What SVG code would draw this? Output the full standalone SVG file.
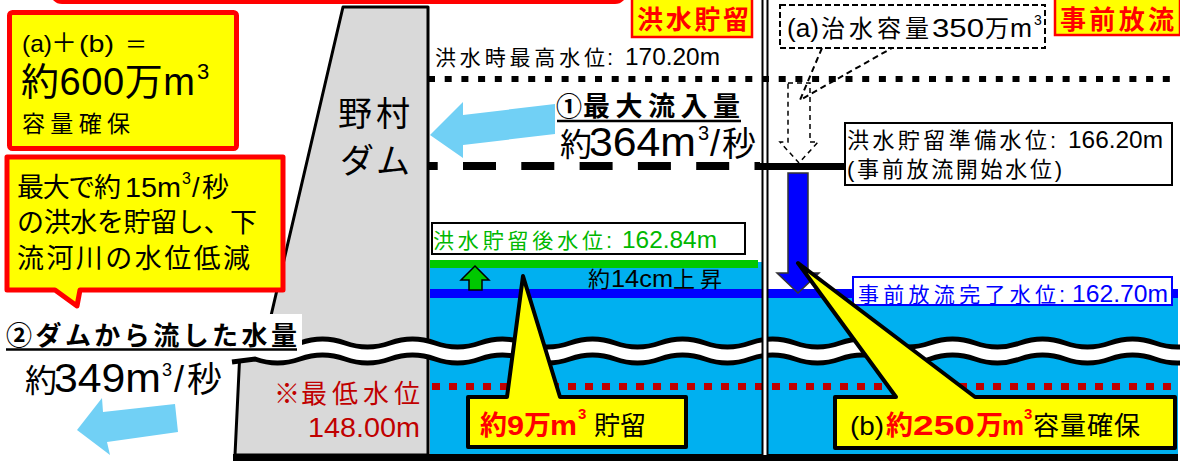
<svg xmlns="http://www.w3.org/2000/svg" width="1180" height="461" viewBox="0 0 1180 461">
  <defs>
    <style>
      .t { font-family: "Liberation Sans", "Noto Sans CJK JP", sans-serif; fill: #000; }
      .cj { font-family: "Noto Sans CJK JP", "Liberation Sans", sans-serif; }
      .b { font-weight: bold; }
      .red { fill: #ff0000; }
      .dred { fill: #c00000; }
      .grn { fill: #00b800; }
      .blu { fill: #0000ff; }
      .note { fill: #ffff00; stroke: #ff0000; stroke-width: 5; stroke-linejoin: round; }
      .call { fill: #ffff00; stroke: #000; stroke-width: 4; stroke-linejoin: round; }
      .tag { fill: #ffff00; stroke: #ff0000; stroke-width: 2.5; }
      .lbl { fill: #fff; stroke: #000; stroke-width: 2; }
      .water { fill: #00b0f0; }
      .dam { fill: #d9d9d9; stroke: #000; stroke-width: 3; stroke-linejoin: round; }
      .flow { fill: #71d0f5; }
    </style>
  </defs>

  <rect width="1180" height="461" fill="#fff"/>

  <!-- frame of a panel above -->
  <rect x="52" y="-30" width="573" height="32" rx="10" fill="#fff" stroke="#ff0000" stroke-width="4"/>

  <!-- reservoir water -->
  <g id="reservoir">
    <rect class="water" x="430" y="262" width="333" height="193"/>
    <rect class="water" x="767" y="293" width="411" height="162"/>
    <rect x="430" y="260" width="328" height="8" fill="#00c800"/>
    <rect x="430" y="289" width="748" height="9" fill="#0000ff"/>
    <path d="M432,386.5 H1178" stroke="#c00000" stroke-width="7" stroke-dasharray="8 9"/>
  </g>

  <!-- dam body -->
  <g id="dam">
    <polygon class="dam" points="343,7 428,7 428,350 263,350"/>
    <polygon class="dam" points="240,350 428,350 428,455 235,455"/>
  </g>

  <!-- break lines -->
  <g id="break" fill="none">
    <path d="M232,353 L255,351 Q277.5,359 300,351 T345,351 T390,351 T435,351 T480,351 T525,351 T570,351 T615,351 T660,351 T705,351 T750,351 T795,351 T840,351 T885,351 T930,351 T975,351 T1020,351 T1065,351 T1110,351 T1155,351 T1200,351" stroke="#fff" stroke-width="16"/>
    <path d="M300,343 Q322.5,335 345,343 T390,343 T435,343 T480,343 T525,343 T570,343 T615,343 T660,343 T705,343 T750,343 T795,343 T840,343 T885,343 T930,343 T975,343 T1020,343 T1065,343 T1110,343 T1155,343 T1200,343" stroke="#000" stroke-width="5"/>
    <path d="M232,362 L255,359 Q277.5,367 300,359 T345,359 T390,359 T435,359 T480,359 T525,359 T570,359 T615,359 T660,359 T705,359 T750,359 T795,359 T840,359 T885,359 T930,359 T975,359 T1020,359 T1065,359 T1110,359 T1155,359 T1200,359" stroke="#000" stroke-width="5"/>
  </g>

  <rect x="233" y="454" width="945" height="7" fill="#000"/>

  <!-- divider between the two operations -->
  <g id="divider">
    <rect x="763" y="0" width="4" height="455" fill="#fff"/>
    <path d="M762.5,0 V455 M767.5,0 V455" stroke="#000" stroke-width="2"/>
  </g>

  <!-- water levels -->
  <g id="levels" fill="none">
    <path d="M428,79 H1178" stroke="#000" stroke-width="6" stroke-dasharray="7 9.7"/>
    <path d="M428,166 H760" stroke="#000" stroke-width="8" stroke-dasharray="33 25.3" stroke-dashoffset="23.3"/>
    <path d="M756,166.5 H846" stroke="#000" stroke-width="7"/>
  </g>

  <!-- connectors -->
  <g id="connectors">
    <polygon class="flow" points="430,135 463,102 463,115 555,104 555,134 463,145 463,158"/>
    <polygon class="flow" points="77,430 102,398 103,412 175,404 178,432 107,442 110,455"/>
    <path d="M822,48 L800,100 L892,48" fill="none" stroke="#000" stroke-width="2" stroke-dasharray="6 4"/>
    <polygon points="788,83 810,83 810,142 818,142 799,163 780,142 788,142" fill="none" stroke="#000" stroke-width="1.5" stroke-dasharray="5 4"/>
    <polygon points="788,173 808,173 808,273 819,273 798,293 777,273 788,273" fill="#0000ff" stroke="#333" stroke-width="1.5"/>
    <polygon points="475,266 489,280 482,280 482,290 469,290 469,280 461,280" fill="#00c800" stroke="#000" stroke-width="1.5"/>
  </g>

  <!-- upper-left summary -->
  <g id="summary">
    <rect class="note" x="9.5" y="12.5" width="227" height="136" rx="3"/>
    <text class="t" y="52"><tspan x="22" font-size="24" textLength="30" lengthAdjust="spacingAndGlyphs">(a)</tspan><tspan x="51" font-size="26">＋</tspan><tspan x="79" font-size="24" textLength="35" lengthAdjust="spacingAndGlyphs">(b)</tspan><tspan x="125" font-size="22">＝</tspan></text>
    <text class="t" font-size="38"><tspan x="21" y="95" textLength="174">約600万m</tspan><tspan x="197" y="79" font-size="22">3</tspan></text>
    <text class="t cj" x="22" y="132" font-size="23" textLength="108">容量確保</text>
  </g>

  <!-- effect note -->
  <g id="effect">
    <path class="note" d="M7,157 H283 V290 H80 L77,306 L55,290 H7 Z"/>
    <text class="t" font-size="27" y="197"><tspan x="17" textLength="104">最大で約</tspan><tspan x="125" textLength="56" lengthAdjust="spacingAndGlyphs">15m</tspan><tspan x="182" y="184" font-size="16">3</tspan><tspan x="192" y="197">/</tspan><tspan x="202">秒</tspan></text>
    <text class="t cj" x="17" y="232" font-size="27" textLength="240">の洪水を貯留し、下</text>
    <text class="t cj" x="17" y="268" font-size="27" textLength="233">流河川の水位低減</text>
  </g>

  <g id="dam-name">
    <text class="t cj" x="338" y="126" font-size="34" textLength="72">野村</text>
    <text class="t cj" x="340" y="173" font-size="34" textLength="70">ダム</text>
  </g>

  <g id="tag-storage">
    <rect class="tag" x="632" y="-3" width="120" height="40"/>
    <text class="t cj b red" x="637" y="29" font-size="26" textLength="112">洪水貯留</text>
  </g>
  <g id="tag-release">
    <rect class="tag" x="1055" y="-3" width="125" height="38"/>
    <text class="t cj b red" x="1060" y="29" font-size="26" textLength="114">事前放流</text>
  </g>

  <g id="max-level">
    <text class="t" y="65"><tspan x="435" font-size="21" textLength="170">洪水時最高水位</tspan><tspan x="607" font-size="22">:</tspan><tspan x="625" font-size="24" textLength="95" lengthAdjust="spacingAndGlyphs">170.20m</tspan></text>
  </g>

  <g id="inflow">
    <text class="t b" y="116"><tspan x="556" font-size="26">①</tspan><tspan x="583" font-size="27" textLength="157">最大流入量</tspan></text>
    <path d="M557,121 H741" stroke="#000" stroke-width="2.5"/>
    <text class="t" y="156"><tspan x="560" font-size="32">約</tspan><tspan x="589" font-size="40" textLength="107" lengthAdjust="spacingAndGlyphs">364m</tspan><tspan x="698" y="140" font-size="20">3</tspan><tspan x="710" y="156" font-size="36">/</tspan><tspan x="722" font-size="34">秒</tspan></text>
  </g>

  <g id="outflow">
    <rect x="0" y="314" width="302" height="38" fill="#fff"/>
    <text class="t b" x="6" y="345" font-size="26" textLength="291">②ダムから流した水量</text>
    <path d="M6,349.5 H297" stroke="#000" stroke-width="2.5"/>
    <text class="t" y="392"><tspan x="25" font-size="32">約</tspan><tspan x="54" font-size="40" textLength="107" lengthAdjust="spacingAndGlyphs">349m</tspan><tspan x="162" y="376" font-size="18">3</tspan><tspan x="174" y="392" font-size="36">/</tspan><tspan x="187" font-size="35">秒</tspan></text>
  </g>

  <g id="capacity-a">
    <rect x="780" y="5" width="265" height="43" fill="#fff" stroke="#000" stroke-width="2" stroke-dasharray="6 3"/>
    <text class="t" y="37"><tspan x="787" font-size="25" textLength="32" lengthAdjust="spacingAndGlyphs">(a)</tspan><tspan x="821" font-size="24" textLength="108">治水容量</tspan><tspan x="932" font-size="25" textLength="52" lengthAdjust="spacingAndGlyphs">350</tspan><tspan x="985" font-size="24">万</tspan><tspan x="1010" font-size="25" textLength="22" lengthAdjust="spacingAndGlyphs">m</tspan><tspan x="1034" y="25" font-size="14">3</tspan></text>
  </g>

  <g id="prep-level">
    <rect class="lbl" x="845" y="123" width="327" height="62"/>
    <text class="t" y="148"><tspan x="847" font-size="22" textLength="200">洪水貯留準備水位</tspan><tspan x="1050" font-size="22">:</tspan><tspan x="1068" font-size="24" textLength="95" lengthAdjust="spacingAndGlyphs">166.20m</tspan></text>
    <text class="t" x="847" y="177" font-size="22" textLength="215">(事前放流開始水位)</text>
  </g>

  <g id="after-level">
    <rect class="lbl" x="432" y="223" width="313" height="31"/>
    <text class="t grn" y="248"><tspan x="433" font-size="21" textLength="170">洪水貯留後水位</tspan><tspan x="606" font-size="22">:</tspan><tspan x="622" font-size="24" textLength="95" lengthAdjust="spacingAndGlyphs">162.84m</tspan></text>
  </g>

  <g id="rise">
    <text class="t" y="287"><tspan x="588" font-size="22">約</tspan><tspan x="611" font-size="24" textLength="62" lengthAdjust="spacingAndGlyphs">14cm</tspan><tspan x="673" font-size="22" textLength="49">上昇</tspan></text>
  </g>

  <g id="release-level">
    <rect x="853" y="277" width="319" height="28" fill="#fff" stroke="#0000ff" stroke-width="2"/>
    <text class="t blu" y="302"><tspan x="858" font-size="21" textLength="198">事前放流完了水位</tspan><tspan x="1059" font-size="22">:</tspan><tspan x="1072" font-size="24" textLength="96" lengthAdjust="spacingAndGlyphs">162.70m</tspan></text>
  </g>

  <g id="min-level">
    <text class="t cj dred" y="403" font-size="26"><tspan x="274">※</tspan><tspan x="301" textLength="119">最低水位</tspan></text>
    <text class="t dred" x="308" y="437" font-size="27" textLength="112" lengthAdjust="spacingAndGlyphs">148.00m</text>
  </g>

  <g id="stored">
    <path class="call" d="M468,397 H507 L523,276 L560,397 H686 V447 H468 Z"/>
    <text class="t" y="435"><tspan class="b red" x="480" font-size="27">約</tspan><tspan class="b red" x="507" font-size="27" textLength="17" lengthAdjust="spacingAndGlyphs">9</tspan><tspan class="b red" x="524" font-size="27">万</tspan><tspan class="b red" x="550" font-size="27" textLength="27" lengthAdjust="spacingAndGlyphs">m</tspan><tspan class="b red" x="578" y="419" font-size="15">3</tspan><tspan x="594" y="435" font-size="26" textLength="52">貯留</tspan></text>
  </g>

  <g id="capacity-b">
    <path class="call" d="M835,397 H896 L798,263 L975,397 H1175 V448 H835 Z"/>
    <text class="t" y="435"><tspan x="850" font-size="26" textLength="34" lengthAdjust="spacingAndGlyphs">(b)</tspan><tspan class="b red" x="886" font-size="27">約</tspan><tspan class="b red" x="913" font-size="27" textLength="62" lengthAdjust="spacingAndGlyphs">250</tspan><tspan class="b red" x="976" font-size="27">万</tspan><tspan class="b red" x="1002" font-size="27" textLength="22" lengthAdjust="spacingAndGlyphs">m</tspan><tspan class="b red" x="1024" y="419" font-size="15">3</tspan><tspan x="1033" y="435" font-size="26" textLength="107">容量確保</tspan></text>
  </g>
</svg>
